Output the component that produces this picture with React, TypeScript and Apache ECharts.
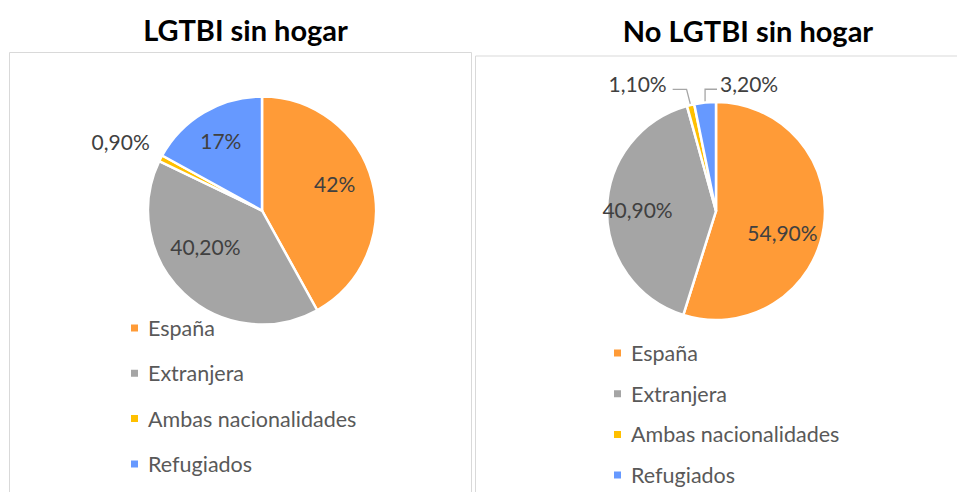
import React, { useEffect, useRef } from "react";
import * as echarts from "echarts";

const categories = ["España", "Extranjera", "Ambas nacionalidades", "Refugiados"];
const lgtbiValues = [42, 40.2, 0.9, 17];
const noLgtbiValues = [54.9, 40.9, 1.1, 3.2];
const lgtbiLabels = ["42%", "40,20%", "0,90%", "17%"];
const noLgtbiLabels = ["54,90%", "40,90%", "1,10%", "3,20%"];
const titles = ["LGTBI sin hogar", "No LGTBI sin hogar"];
const colors = ["#FF9B37", "#A5A5A5", "#FFC000", "#6699FF"];

const FONT = "Lato, 'Open Sans', sans-serif";

type Place =
  | { kind: "in"; f: number; da: number }
  | { kind: "out"; dx: number; dy: number; line: boolean; kx?: number; gap?: number };

const leftPlace: Place[] = [
  { kind: "in", f: 0.68, da: -6 },
  { kind: "in", f: 0.59, da: 14 },
  { kind: "out", dx: -40, dy: -16.5, line: false },
  { kind: "in", f: 0.71, da: 0 },
];
const rightPlace: Place[] = [
  { kind: "in", f: 0.64, da: 9 },
  { kind: "in", f: 0.72, da: 0 },
  { kind: "out", dx: -53, dy: -21.7, line: true, kx: -4, gap: 6 },
  { kind: "out", dx: 44, dy: -19.3, line: true, kx: 0, gap: 3 },
];

function makeLayout(values: number[], cx: number, cy: number, r: number, place: Place[]) {
  const total = values.reduce((a, b) => a + b, 0);
  const mids: number[] = [];
  let acc = 0;
  values.forEach((v) => {
    const span = (v / total) * 360;
    mids.push(acc + span / 2);
    acc += span;
  });
  return (p: any) => {
    const i = p.dataIndex;
    const m = mids[i];
    const c = place[i];
    if (c.kind === "in") {
      const a = ((m + c.da) * Math.PI) / 180;
      return {
        x: cx + c.f * r * Math.sin(a),
        y: cy - c.f * r * Math.cos(a),
        align: "center",
        verticalAlign: "middle",
      };
    }
    const a = (m * Math.PI) / 180;
    const px = cx + r * Math.sin(a);
    const py = cy - r * Math.cos(a);
    const tx = px + c.dx;
    const ty = py + c.dy;
    const res: any = { x: tx, y: ty, align: "center", verticalAlign: "middle" };
    if (c.line) {
      const w = p.labelRect ? p.labelRect.width : 58;
      const side = c.dx < 0 ? 1 : -1;
      const endX = tx + side * (w / 2 + (c.gap || 0));
      res.labelLinePoints = [
        [px, py],
        [px + (c.kx || 0), ty + 6],
        [endX, ty + 6],
      ];
    }
    return res;
  };
}

function buildData(values: number[], labels: string[], place: Place[]) {
  return values.map((v, i) => ({
    name: categories[i],
    value: v,
    itemStyle: { color: colors[i] },
    label: {
      formatter: labels[i],
      position: place[i].kind === "in" ? "inside" : "outside",
    },
    labelLine: {
      show: place[i].kind === "out" && (place[i] as any).line,
      lineStyle: { color: "#A6A6A6", width: 1.3 },
    },
  }));
}

const L = { cx: 262, cy: 210.5, r: 114 };
const R = { cx: 716, cy: 211, r: 109 };

export default function App() {
  const ref = useRef<HTMLDivElement>(null);
  useEffect(() => {
    if (!ref.current) return;
    const chart = echarts.init(ref.current, undefined, { renderer: "svg" });
    const labelStyle = {
      show: true,
      fontSize: 21,
      color: "#404040",
      fontFamily: FONT,
    };
    const legendBase = {
      orient: "vertical" as const,
      icon: "rect",
      itemWidth: 9,
      itemHeight: 9,
      height: 220,
      data: categories,
      selectedMode: false,
      textStyle: {
        fontSize: 21.5,
        color: "#595959",
        fontFamily: FONT,
        lineHeight: 22,
        padding: [0, 0, 0, 4],
      },
    };
    chart.setOption({
      animation: false,
      backgroundColor: "#fff",
      graphic: [
        {
          type: "rect",
          shape: { x: 9.5, y: 52.5, width: 462, height: 460 },
          style: { fill: "none", stroke: "#D9D9D9", lineWidth: 1 },
          silent: true,
        },
        {
          type: "rect",
          shape: { x: 475.5, y: 56, width: 500, height: 460 },
          style: { fill: "none", stroke: "#D9D9D9", lineWidth: 1 },
          silent: true,
        },
        {
          type: "text",
          x: 245.5,
          y: 29,
          style: {
            text: titles[0],
            fontSize: 29,
            fontWeight: "bold",
            fontFamily: FONT,
            fill: "#000",
            align: "center",
            verticalAlign: "middle",
          },
        },
        {
          type: "text",
          x: 748,
          y: 30,
          style: {
            text: titles[1],
            fontSize: 29,
            fontWeight: "bold",
            fontFamily: FONT,
            fill: "#000",
            align: "center",
            verticalAlign: "middle",
          },
        },
      ],
      legend: [
        { ...legendBase, left: 124, top: 312, itemGap: 23.3 },
        { ...legendBase, left: 607, top: 337, itemGap: 18.7 },
      ],
      series: [
        {
          type: "pie",
          center: [L.cx, L.cy],
          radius: [0, L.r],
          startAngle: 90,
          clockwise: true,
          avoidLabelOverlap: false,
          itemStyle: { borderColor: "#fff", borderWidth: 2.5 },
          label: labelStyle,
          labelLayout: makeLayout(lgtbiValues, L.cx, L.cy, L.r, leftPlace),
          data: buildData(lgtbiValues, lgtbiLabels, leftPlace),
        },
        {
          type: "pie",
          center: [R.cx, R.cy],
          radius: [0, R.r],
          startAngle: 90,
          clockwise: true,
          avoidLabelOverlap: false,
          itemStyle: { borderColor: "#fff", borderWidth: 2.5 },
          label: labelStyle,
          labelLayout: makeLayout(noLgtbiValues, R.cx, R.cy, R.r, rightPlace),
          data: buildData(noLgtbiValues, noLgtbiLabels, rightPlace),
        },
      ],
    });
    return () => chart.dispose();
  }, []);
  return (
    <div
      ref={ref}
      style={{ position: "fixed", left: 0, top: 0, width: 957, height: 492 }}
    />
  );
}
